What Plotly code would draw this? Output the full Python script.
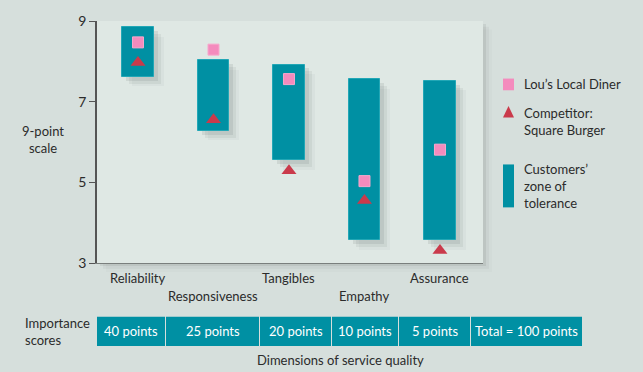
import plotly.graph_objects as go

# ---- data ----
dimensions = ["Reliability", "Responsiveness", "Tangibles", "Empathy", "Assurance"]
zone_low = [7.62, 6.28, 5.55, 3.57, 3.57]
zone_high = [8.84, 8.03, 7.92, 7.55, 7.52]
lous_diner = [8.47, 8.29, 7.56, 5.03, 5.81]
square_burger = [7.97, 6.55, 5.29, 4.55, 3.31]
importance_labels = ["40 points", "25 points", "20 points", "10 points", "5 points", "Total = 100 points"]
y_ticks = [3, 5, 7, 9]

TEAL = "#0090a3"
PINK = "#f48bbd"
RED = "#ca3a4b"
TXT = "#2b2b2b"
BG = "#d6dfdc"
FONT = "Lato"

W, H = 643, 372
L, R, T, B = 97, 483, 15, 263  # plot area pixels
PW, PH = R - L, B - T


def px(x):
    return (x - L) / PW


def py(y):
    return (B - y) / PH


xs = list(range(len(dimensions)))
fig = go.Figure()

# bar shadows
for dx, op in [(4, 0.10), (7, 0.07), (10, 0.04)]:
    fig.add_trace(go.Bar(
        x=[x + dx / 75.5 for x in xs], base=[l - dx / 41.3 for l in zone_low],
        y=[h - l for h, l in zip(zone_high, zone_low)],
        width=0.42, marker=dict(color=f"rgba(60,70,70,{op})", line=dict(width=0)),
        hoverinfo="skip", showlegend=False))

fig.add_trace(go.Bar(
    x=xs, base=zone_low, y=[h - l for h, l in zip(zone_high, zone_low)],
    width=0.42, marker=dict(color=TEAL, line=dict(color="#22a7b6", width=1)),
    name="Customers' zone of tolerance", showlegend=False))
fig.add_trace(go.Scatter(
    x=xs, y=lous_diner, mode="markers",
    marker=dict(symbol="square", size=11, color=PINK, line=dict(color="#f7a8cc", width=1)),
    name="Lou's Local Diner", showlegend=False))
fig.add_trace(go.Scatter(
    x=xs, y=square_burger, mode="markers",
    marker=dict(symbol="triangle-up", size=13, color=RED, line=dict(width=0)),
    name="Competitor: Square Burger", showlegend=False))

shapes = []
annotations = []

# plot area shadow
for d, op in [(3, 0.10), (6, 0.06), (9, 0.03)]:
    shapes.append(dict(type="rect", xref="paper", yref="paper", layer="below",
                       x0=px(L + d), x1=px(R + d), y0=py(B + d), y1=py(T + d),
                       fillcolor=f"rgba(80,90,90,{op})", line=dict(width=0)))
shapes.append(dict(type="rect", xref="paper", yref="paper", layer="below",
                   x0=0, x1=1, y0=0, y1=1, fillcolor="#dfe8e4", line=dict(width=0)))

# category labels (staggered)
for i, name in enumerate(dimensions):
    annotations.append(dict(x=i, y=py(278 if i % 2 == 0 else 297), xref="x", yref="paper",
                            text=name, showarrow=False, font=dict(size=13, color=TXT, family=FONT),
                            xanchor="center", yanchor="middle"))

# importance table
cells = [(97, 165), (166, 259), (260, 331), (332, 398), (399, 470), (471, 582)]
for (a, b), lab in zip(cells, importance_labels):
    shapes.append(dict(type="rect", xref="paper", yref="paper",
                       x0=px(a), x1=px(b), y0=py(348), y1=py(318),
                       fillcolor=TEAL, line=dict(width=0)))
    annotations.append(dict(x=px((a + b) / 2), y=py(333), xref="paper", yref="paper",
                            text=lab, showarrow=False, font=dict(size=13, color="white", family=FONT),
                            xanchor="center", yanchor="middle"))
annotations.append(dict(x=px(23), y=py(333), xref="paper", yref="paper",
                        text="Importance<br>scores", showarrow=False, align="left",
                        font=dict(size=13, color=TXT, family=FONT), xanchor="left", yanchor="middle"))
annotations.append(dict(x=px(340), y=py(362), xref="paper", yref="paper",
                        text="Dimensions of service quality", showarrow=False,
                        font=dict(size=13, color=TXT, family=FONT), xanchor="center", yanchor="middle"))
annotations.append(dict(x=px(43), y=py(136), xref="paper", yref="paper",
                        text="9-point<br>scale", showarrow=False, align="center",
                        font=dict(size=13, color=TXT, family=FONT), xanchor="center", yanchor="middle"))

# legend
shapes.append(dict(type="rect", xref="paper", yref="paper", x0=px(503), x1=px(514),
                   y0=py(86), y1=py(74), fillcolor=PINK, line=dict(width=0)))
shapes.append(dict(type="path", xref="paper", yref="paper",
                   path=f"M {px(503)},{py(114)} L {px(514)},{py(114)} L {px(508.5)},{py(102)} Z",
                   fillcolor=RED, line=dict(width=0)))
shapes.append(dict(type="rect", xref="paper", yref="paper", x0=px(503), x1=px(514),
                   y0=py(206), y1=py(162), fillcolor=TEAL, line=dict(width=0)))
annotations.append(dict(x=px(522), y=py(80), xref="paper", yref="paper", text="Lou’s Local Diner",
                        showarrow=False, align="left", font=dict(size=13, color=TXT, family=FONT),
                        xanchor="left", yanchor="middle"))
annotations.append(dict(x=px(522), y=py(118), xref="paper", yref="paper", text="Competitor:<br>Square Burger",
                        showarrow=False, align="left", font=dict(size=13, color=TXT, family=FONT),
                        xanchor="left", yanchor="middle"))
annotations.append(dict(x=px(522), y=py(184), xref="paper", yref="paper",
                        text="Customers’<br>zone of<br>tolerance",
                        showarrow=False, align="left", font=dict(size=13, color=TXT, family=FONT),
                        xanchor="left", yanchor="middle"))

fig.update_layout(
    width=W, height=H, margin=dict(l=L, r=W - R, t=T, b=H - B),
    paper_bgcolor=BG, plot_bgcolor="rgba(0,0,0,0)",
    barmode="overlay", bargap=0, showlegend=False,
    shapes=shapes, annotations=annotations,
    font=dict(family=FONT, color=TXT, size=13),
    xaxis=dict(range=[-0.543, 4.57], showticklabels=False, showgrid=False, zeroline=False,
               showline=True, linecolor="#7a7f7d", linewidth=1, ticks=""),
    yaxis=dict(range=[3, 9], tickvals=y_ticks, showgrid=False, zeroline=False,
               showline=True, linecolor="#555", linewidth=1.5, ticks="outside",
               ticklen=6, tickcolor="#555", tickfont=dict(size=14, color=TXT, family=FONT)),
)

fig.write_html("out.html", config={"displayModeBar": False},
               post_script=f"document.body.style.margin='0';document.body.style.background='{BG}';"
                           "document.body.style.overflow='hidden';")
